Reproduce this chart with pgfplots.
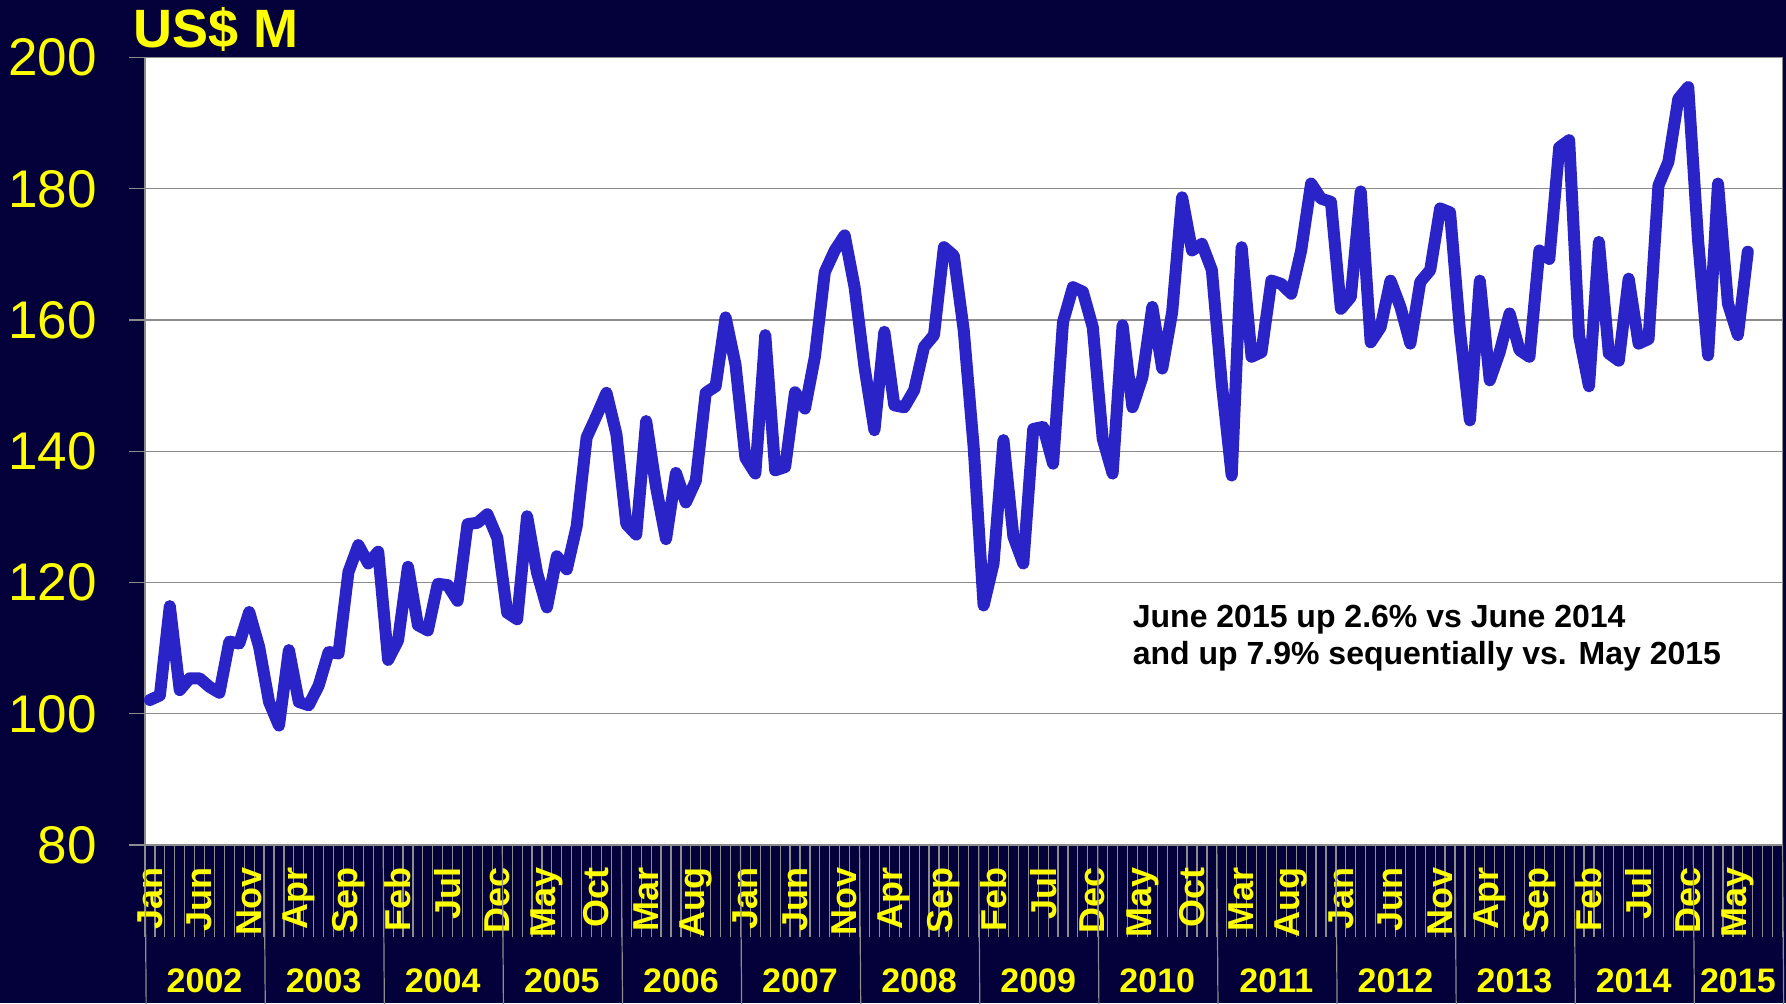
\documentclass[border=0pt]{standalone}
\usepackage{pgfplots}
\pgfplotsset{compat=1.18}
\usepackage{fontspec}
\setmainfont{Liberation Sans}
\definecolor{bg}{HTML}{04003A}
\definecolor{ln}{HTML}{2A23C8}
\definecolor{yl}{HTML}{FFFF00}
\definecolor{gr}{HTML}{8C8C8C}
\begin{document}
\begin{tikzpicture}
\fill[bg] (-72.5pt,-79pt) rectangle (820.5pt,422.5pt);
\begin{axis}[
  at={(0,0)}, anchor=south west,
  width=818.75pt, height=393.75pt, scale only axis,
  xmin=-0.5, xmax=164.5, ymin=80, ymax=200,
  clip=false,
  axis background/.style={fill=white},
  axis line style={gr, line width=0.6pt},
  ytick={80,100,...,200},
  ymajorgrids, grid style={gr, line width=0.6pt},
  tick pos=left,
  tick align=outside,
  major tick length=8pt,
  minor tick length=46pt,
  tick style={gr, line width=0.6pt},
  xtick={0,5,...,160},
  xticklabels={Jan,Jun,Nov,Apr,Sep,Feb,Jul,Dec,May,Oct,Mar,Aug,Jan,Jun,Nov,Apr,Sep,Feb,Jul,Dec,May,Oct,Mar,Aug,Jan,Jun,Nov,Apr,Sep,Feb,Jul,Dec,May},
  major x tick style={draw=none},
  minor xtick={-0.5,0.5,...,164.5},
  xticklabel shift=3pt,
  yticklabel shift=16pt,
  xticklabel style={rotate=90, anchor=east, inner sep=0pt, font=\bfseries\fontsize{18}{18}\selectfont, text=yl},
  yticklabel style={anchor=east, inner sep=0pt, font=\fontsize{26.5}{27}\selectfont, text=yl},
  /pgf/number format/assume math mode=true,
]
\addplot[ln, line width=6pt, line join=round, line cap=round] coordinates {
(0,102.1)(1,102.8)(2,116.4)(3,103.6)(4,105.4)(5,105.4)(6,104.1)(7,103.2)(8,111.0)(9,110.7)
(10,115.5)(11,110.2)(12,101.8)(13,98.2)(14,109.7)(15,101.8)(16,101.3)(17,104.3)(18,109.4)(19,109.2)
(20,121.6)(21,125.7)(22,122.9)(23,124.7)(24,108.2)(25,111.2)(26,122.4)(27,113.5)(28,112.7)(29,119.8)
(30,119.6)(31,117.2)(32,128.9)(33,129.1)(34,130.4)(35,126.8)(36,115.4)(37,114.4)(38,130.1)(39,121.5)
(40,116.2)(41,124.0)(42,122.0)(43,128.6)(44,142.1)(45,145.4)(46,148.9)(47,142.6)(48,128.9)(49,127.3)
(50,144.6)(51,134.5)(52,126.6)(53,136.7)(54,132.2)(55,135.5)(56,148.9)(57,149.9)(58,160.4)(59,153.2)
(60,139.0)(61,136.6)(62,157.7)(63,137.1)(64,137.6)(65,149.0)(66,146.5)(67,154.4)(68,167.3)(69,170.6)
(70,172.9)(71,165.0)(72,152.8)(73,143.2)(74,158.2)(75,147.0)(76,146.7)(77,149.3)(78,155.9)(79,157.7)
(80,171.1)(81,169.8)(82,158.4)(83,140.6)(84,116.5)(85,122.9)(86,141.7)(87,127.0)(88,122.9)(89,143.4)
(90,143.7)(91,138.1)(92,159.7)(93,165.0)(94,164.3)(95,158.9)(96,141.9)(97,136.6)(98,159.2)(99,146.7)
(100,151.3)(101,162.0)(102,152.6)(103,161.2)(104,178.7)(105,170.6)(106,171.6)(107,167.6)(108,150.3)(109,136.3)
(110,171.1)(111,154.4)(112,155.1)(113,166.0)(114,165.5)(115,164.0)(116,170.6)(117,180.8)(118,178.5)(119,178.0)
(120,161.7)(121,163.5)(122,179.6)(123,156.6)(124,158.9)(125,166.0)(126,162.0)(127,156.4)(128,165.8)(129,167.6)
(130,177.0)(131,176.4)(132,158.4)(133,144.7)(134,166.0)(135,150.8)(136,155.1)(137,161.0)(138,155.4)(139,154.4)
(140,170.6)(141,169.3)(142,186.3)(143,187.4)(144,157.6)(145,149.9)(146,171.9)(147,154.9)(148,153.8)(149,166.3)
(150,156.4)(151,157.1)(152,180.5)(153,184.1)(154,193.7)(155,195.5)(156,172.0)(157,154.6)(158,180.8)(159,162.5)
(160,157.7)(161,170.4)
};
\foreach \s in {-0.5,11.5,23.5,35.5,47.5,59.5,71.5,83.5,95.5,107.5,119.5,131.5,143.5,155.5,164.5}{
  \edef\tmp{\noexpand\draw[gr, line width=0.6pt] (axis cs:\s,80) -- ++(0,-79pt);}\tmp
}
\foreach \x/\y in {5.5/2002,17.5/2003,29.5/2004,41.5/2005,53.5/2006,65.5/2007,77.5/2008,89.5/2009,101.5/2010,113.5/2011,125.5/2012,137.5/2013,149.5/2014,160/2015}{
  \edef\tmp{\noexpand\node[anchor=base, inner sep=0pt, text=yl, font=\noexpand\bfseries\noexpand\fontsize{17}{17}\noexpand\selectfont, yshift=-73.5pt] at (axis cs:\x,80) {\y};}\tmp
}
\node[anchor=base west, inner sep=0pt, text=yl, font=\bfseries\fontsize{27}{27}\selectfont, xshift=-6pt, yshift=5.25pt] at (rel axis cs:0,1) {US\$ M};
\node[anchor=base west, inner sep=0pt, font=\bfseries\fontsize{16}{16}\selectfont] at (axis cs:99,113.2) {June 2015 up 2.6\% vs June 2014};
\node[anchor=base west, inner sep=0pt, font=\bfseries\fontsize{16}{16}\selectfont] at (axis cs:99,107.5) {and up 7.9\% sequentially vs. May 2015};
\end{axis}
\pgfresetboundingbox
\useasboundingbox (-72.5pt,-79pt) rectangle (820.5pt,422.5pt);
\end{tikzpicture}
\end{document}
